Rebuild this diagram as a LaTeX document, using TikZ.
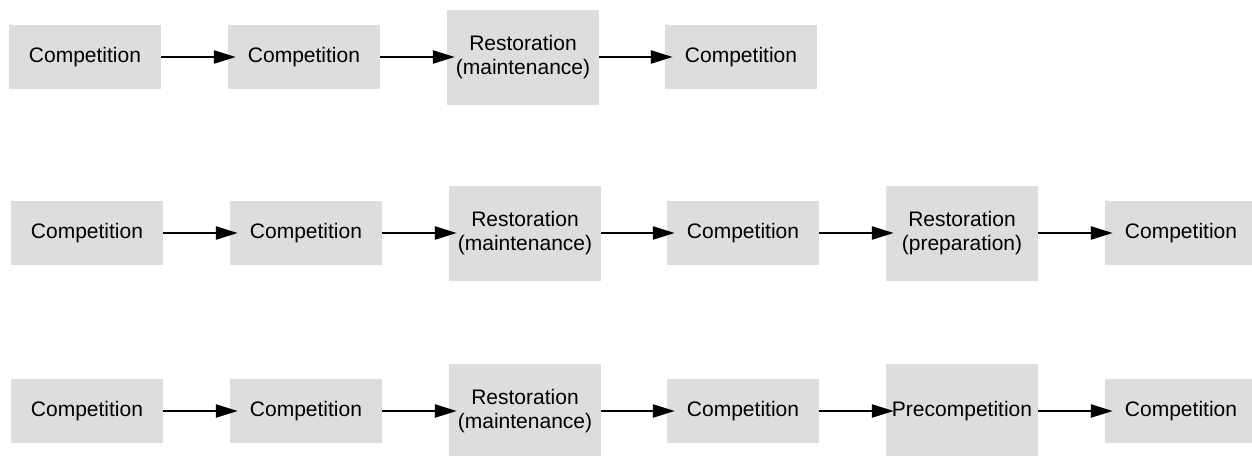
\documentclass[tikz,border=0pt]{standalone}
\usepackage{fontspec}
\setmainfont{Liberation Sans}
\usetikzlibrary{arrows.meta}
\definecolor{boxgray}{RGB}{220,221,223}
\tikzset{
  phase/.style={fill=boxgray, inner sep=0pt, minimum width=152pt, minimum height=64pt,
    align=center, font=\fontsize{21}{24}\selectfont},
  tallphase/.style={phase, minimum height=95pt},
  flow/.style={line width=2.4pt, shorten >=-8pt,
    -{Triangle[length=22pt,width=13pt]}}
}
\begin{document}
\begin{tikzpicture}[x=1pt,y=-1pt]
\clip (0,0) rectangle (1252,455);
\fill[white] (0,0) rectangle (1252,455);
% first sequence
\node[phase]     (a1) at (85,57)  {Competition};
\node[phase]     (a2) at (304,57) {Competition};
\node[tallphase] (a3) at (523,57) {Restoration\\(maintenance)};
\node[phase]     (a4) at (741,57) {Competition};
\draw[flow] (a1.east) -- (a2.west);
\draw[flow] (a2.east) -- (a3.west);
\draw[flow] (a3.east) -- (a4.west);
% second sequence
\node[phase]     (b1) at (87,233)   {Competition};
\node[phase]     (b2) at (306,233)  {Competition};
\node[tallphase] (b3) at (525,233)  {Restoration\\(maintenance)};
\node[phase]     (b4) at (743,233)  {Competition};
\node[tallphase] (b5) at (962,233)  {Restoration\\(preparation)};
\node[phase]     (b6) at (1181,233) {Competition};
\draw[flow] (b1.east) -- (b2.west);
\draw[flow] (b2.east) -- (b3.west);
\draw[flow] (b3.east) -- (b4.west);
\draw[flow] (b4.east) -- (b5.west);
\draw[flow] (b5.east) -- (b6.west);
% third sequence
\node[phase]     (c1) at (87,411)   {Competition};
\node[phase]     (c2) at (306,411)  {Competition};
\node[tallphase] (c3) at (525,411)  {Restoration\\(maintenance)};
\node[phase]     (c4) at (743,411)  {Competition};
\node[tallphase] (c5) at (962,411)  {Precompetition};
\node[phase]     (c6) at (1181,411) {Competition};
\draw[flow] (c1.east) -- (c2.west);
\draw[flow] (c2.east) -- (c3.west);
\draw[flow] (c3.east) -- (c4.west);
\draw[flow] (c4.east) -- (c5.west);
\draw[flow] (c5.east) -- (c6.west);
\end{tikzpicture}
\end{document}
